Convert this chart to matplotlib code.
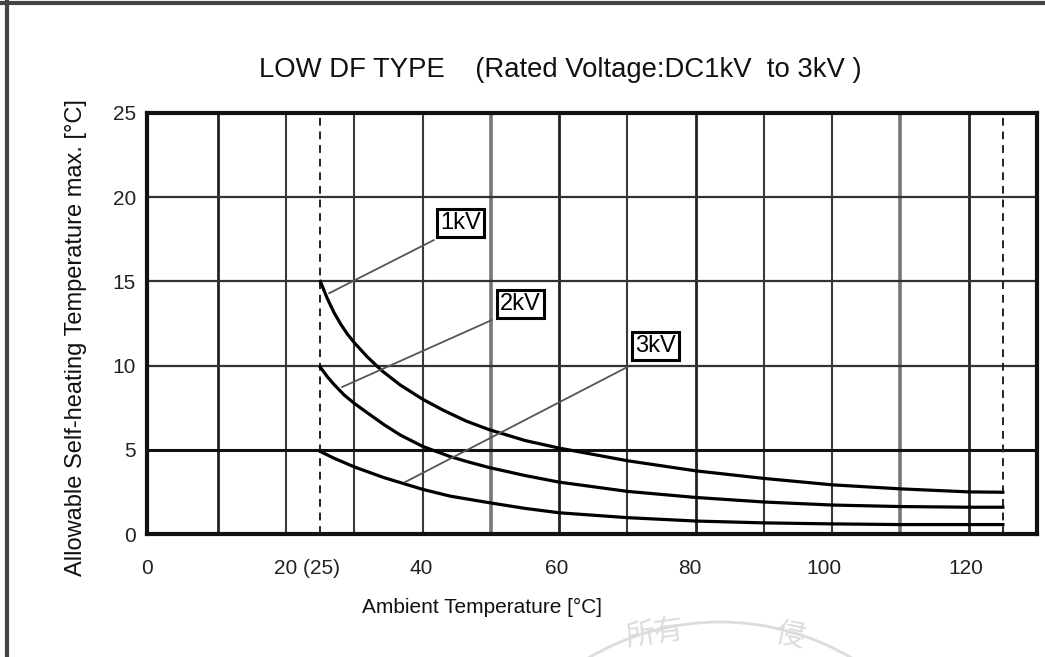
import matplotlib
matplotlib.use("Agg")
import matplotlib.pyplot as plt
from matplotlib.lines import Line2D
from matplotlib.patches import Arc

plt.rcParams['font.family'] = ['Liberation Sans', 'DejaVu Sans']

# data
temp_1kv = [25, 26, 27, 28, 29, 30, 31.8, 34, 36.7, 40, 43, 46.4, 49.7, 55, 60, 70, 80, 90, 100, 110, 120, 125]
rise_1kv = [15.0, 14.0, 13.15, 12.45, 11.85, 11.35, 10.55, 9.7, 8.85, 8.0, 7.35, 6.7, 6.2, 5.55, 5.1, 4.35,
            3.75, 3.3, 2.92, 2.68, 2.5, 2.48]

temp_2kv = [25, 26, 27, 28.5, 30, 31.8, 34.3, 36.7, 40, 44, 46.4, 49.7, 55, 60, 70, 80, 90, 100, 110, 120, 125]
rise_2kv = [9.9, 9.35, 8.88, 8.25, 7.75, 7.22, 6.5, 5.88, 5.2, 4.6, 4.31, 3.95, 3.47, 3.08, 2.53, 2.17,
            1.9, 1.72, 1.63, 1.59, 1.59]

temp_3kv = [25, 27, 30, 34.3, 40, 44, 49.7, 55, 60, 70, 80, 90, 100, 110, 125]
rise_3kv = [4.9, 4.5, 3.98, 3.35, 2.65, 2.25, 1.86, 1.52, 1.26, 0.97, 0.77, 0.66, 0.6, 0.56, 0.56]

labels = ["1kV", "2kV", "3kV"]
label_pos = [(45.5, 18.45), (54.3, 13.67), (74.1, 11.15)]
leader_from = [(41.6, 17.45), (50.1, 12.7), (70.0, 9.92)]
leader_to = [(26.3, 14.3), (28.2, 8.73), (37.4, 3.08)]

xtick_pos = [-0.4, 23.1, 39.7, 59.6, 79.2, 98.8, 119.6]
xtick_lbl = ["0", "20 (25)", "40", "60", "80", "100", "120"]
ytick_pos = [0, 5, 10, 15, 20, 25]

fig = plt.figure(figsize=(10.45, 6.57), dpi=100)
ax = fig.add_axes([147 / 1045, 1 - 534 / 657, 890 / 1045, 421 / 657])

# grid drawn by hand, line weights differ like in the scan
for x in range(10, 130, 10):
    if x in (50, 110):
        ax.axvline(x, color="#777777", lw=2.6, zorder=1)
    elif x in (10, 60, 80, 120):
        ax.axvline(x, color="#222222", lw=2.0, zorder=1)
    else:
        ax.axvline(x, color="#3a3a3a", lw=1.5, zorder=1)
for y in (10, 15, 20):
    ax.axhline(y, color="#333333", lw=1.6, zorder=1)
ax.axhline(5, color="#111111", lw=2.2, zorder=1)
ax.axvline(25, color="#222222", lw=1.4, ls=(0, (4, 3)), zorder=2)
ax.axvline(125, color="#222222", lw=1.4, ls=(0, (4, 3)), zorder=2)

for t, r in [(temp_1kv, rise_1kv), (temp_2kv, rise_2kv), (temp_3kv, rise_3kv)]:
    ax.plot(t, r, color="black", lw=2.3, zorder=3, solid_joinstyle="round")

for lbl, pos, p0, p1 in zip(labels, label_pos, leader_from, leader_to):
    ax.plot([p0[0], p1[0]], [p0[1], p1[1]], color="#555555", lw=1.3, zorder=3)
    ax.text(pos[0], pos[1], lbl, fontsize=17, ha="center", va="center", zorder=4,
            bbox=dict(boxstyle="square,pad=0.13", fc="white", ec="black", lw=2.2))

ax.set_xlim(0, 130)
ax.set_ylim(0, 25)
ax.set_xticks(xtick_pos)
ax.set_xticklabels(xtick_lbl)
ax.set_yticks(ytick_pos)
ax.tick_params(length=0, labelsize=15, colors="#222222")
ax.tick_params(axis="x", pad=18)
ax.tick_params(axis="y", pad=8)
for s in ax.spines.values():
    s.set_linewidth(3)
    s.set_color("#111111")

fig.text(482 / 1045, 1 - 607 / 657, "Ambient Temperature [°C]", fontsize=15,
         ha="center", va="center", color="#111111")
fig.text(76 / 1045, 1 - 338 / 657, "Allowable Self-heating Temperature max. [°C]", fontsize=17,
         ha="center", va="center", rotation=90, color="#111111")

fig.text(560 / 1045, 1 - 70 / 657, "LOW DF TYPE    (Rated Voltage:DC1kV  to 3kV )",
         fontsize=19.8, ha="center", va="center", color="#111111")

# outer frame of the scanned page
fig.add_artist(Line2D([0, 1], [1 - 3 / 657, 1 - 3 / 657], transform=fig.transFigure,
                      color="#444444", lw=3))
fig.add_artist(Line2D([7 / 1045, 7 / 1045], [0, 1], transform=fig.transFigure,
                      color="#444444", lw=3))

# faint watermark seal at the bottom edge
fig.add_artist(Arc((720 / 1045, 1 - 881 / 657), 518 / 1045, 518 / 657, theta1=40, theta2=140,
                   transform=fig.transFigure, color="#dcdcdc", lw=2))
cjk = ['Noto Sans CJK TC', 'DejaVu Sans']
fig.text(655 / 1045, 3 / 657, "所有", fontsize=21, color="#dcdcdc", ha="center", va="bottom",
         family=cjk, rotation=8)
fig.text(790 / 1045, 3 / 657, "侵", fontsize=21, color="#dcdcdc", ha="center", va="bottom",
         family=cjk, rotation=-12)

fig.savefig("out.png", dpi=100)
